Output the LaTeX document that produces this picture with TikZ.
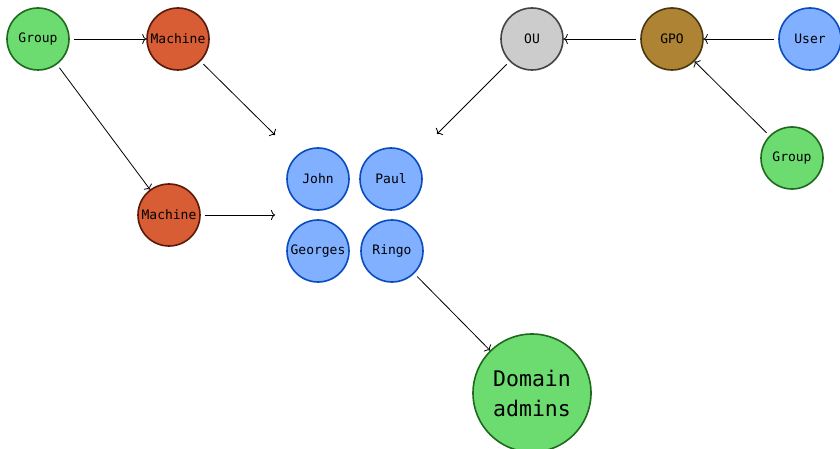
\documentclass[tikz,border=0pt]{standalone}
\usepackage{fontspec}
\setmonofont{DejaVu Sans Mono}
\usepackage{tikz}
\usetikzlibrary{positioning,arrows.meta}
\definecolor{grpfill}{RGB}{108,220,112}
\definecolor{grpdraw}{RGB}{30,105,30}
\definecolor{macfill}{RGB}{216,92,52}
\definecolor{macdraw}{RGB}{90,25,10}
\definecolor{usrfill}{RGB}{128,176,255}
\definecolor{usrdraw}{RGB}{10,75,190}
\definecolor{oufill}{RGB}{204,204,204}
\definecolor{oudraw}{RGB}{68,68,68}
\definecolor{gpofill}{RGB}{174,132,52}
\definecolor{gpodraw}{RGB}{75,55,15}
\tikzset{
	basenode/.style={circle, line width=1.6pt, minimum size=62pt, inner sep=0pt, font=\ttfamily\fontsize{13}{14}\selectfont},
	groupnode/.style={basenode, draw=grpdraw, fill=grpfill},
	machnode/.style={basenode, draw=macdraw, fill=macfill},
	usernode/.style={basenode, draw=usrdraw, fill=usrfill},
	ounode/.style={basenode, draw=oudraw, fill=oufill},
	gponode/.style={basenode, draw=gpodraw, fill=gpofill},
	bignode/.style={groupnode, minimum size=118pt, align=center, font=\ttfamily\fontsize{21.5}{30}\selectfont},
	link/.style={-{To[length=4pt,width=10pt]}, line width=0.8pt, shorten <=4pt}
}
\begin{document}
\begin{tikzpicture}[x=1pt, y=-1pt]
		\useasboundingbox (0,0) rectangle (840,449);
		
		\node[groupnode] at (38,39) (G1)     {Group};
		\node[machnode] at (178,39) (M1)    {Machine};
		\node[machnode] at (169,215) (M2)    {Machine};
		\node[usernode] at (318,179) (john)    {John};
		\node[usernode] at (391,179) (paul)    {Paul};
		\node[usernode] at (318,251) (georges)    {Georges};
		\node[usernode] at (392,251) (ringo)    {Ringo};
		\node[ounode] at (532,39) (OU)    {OU};
		\node[gponode] at (672,39) (GPO)    {GPO};
		\node[usernode] at (810,39) (U)    {User};
		\node[groupnode] at (792,158) (G2)    {Group};
		\node[bignode] at (532,393) (DA)    {Domain\\admins};
		
		%free ends
		\coordinate (e1) at (275,135);
		\coordinate (e2) at (275,215);
		\coordinate (e3) at (437,134);
		
		%Lines
		\draw[link] (G1) -- (M1);
		\draw[link] (G1) -- (M2);
		\draw[link] (M1) -- (e1);
		\draw[link] (M2) -- (e2);
		\draw[link] (OU) -- (e3);
		\draw[link] (GPO) -- (OU);
		\draw[link] (U) -- (GPO);
		\draw[link] (G2) -- (GPO);
		\draw[link] (ringo) -- (DA);
		
	\end{tikzpicture}
\end{document}
